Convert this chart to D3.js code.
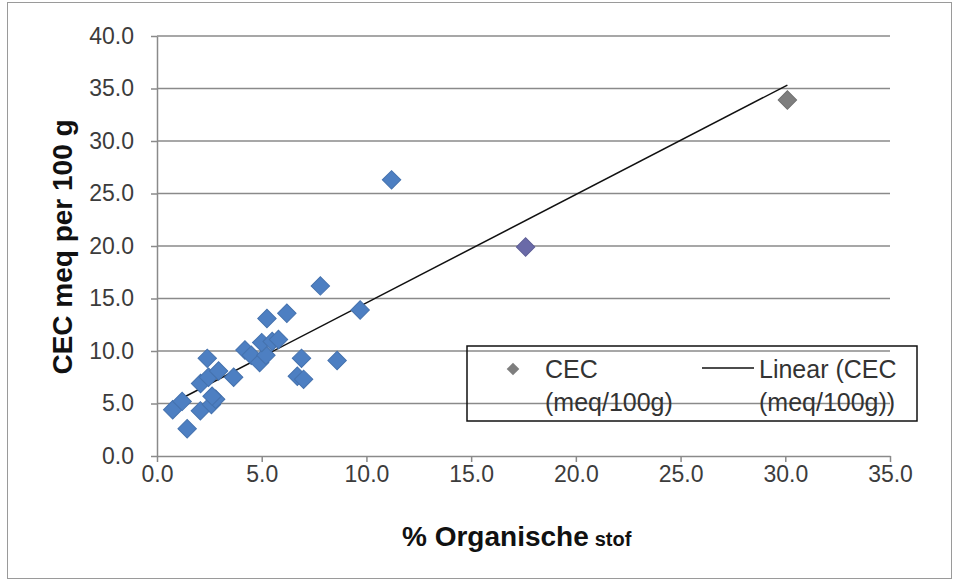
<!DOCTYPE html>
<html>
<head>
<meta charset="utf-8">
<script src="https://cdn.jsdelivr.net/npm/d3@7"></script>
<style>
  body { margin: 0; background: #fff; }
  svg { display: block; font-family: "Liberation Sans", Arial, sans-serif; }
</style>
</head>
<body>
<div id="chart"></div>
<script>
// % organische stof (x) en CEC meq/100g (y)
const organic = [0.75, 1.2, 1.44, 2.07, 2.6, 2.8, 2.63, 2.08, 2.46, 2.94, 2.4, 3.66,
                 4.2, 4.5, 4.9, 5.2, 5.0, 5.5, 5.8, 5.25, 6.2, 6.9, 6.7, 7.0,
                 7.8, 8.6, 9.7, 11.2, 17.6, 30.1];
const cec = [4.4, 5.2, 2.6, 4.3, 4.9, 5.4, 5.7, 6.9, 7.5, 8.1, 9.3, 7.5,
             10.1, 9.6, 8.9, 9.6, 10.8, 10.9, 11.1, 13.1, 13.6, 9.3, 7.6, 7.3,
             16.2, 9.1, 13.9, 26.3, 19.9, 33.9];
const xTicks = [0, 5, 10, 15, 20, 25, 30, 35];
const yTicks = [0, 5, 10, 15, 20, 25, 30, 35, 40];

const points = organic.map((x, i) => ({x: x, y: cec[i]}));

const width = 959, height = 581;
const margin = {top: 36, right: 69, bottom: 125, left: 157};

const svg = d3.select('#chart').append('svg')
    .attr('width', width)
    .attr('height', height);

// buitenrand van de grafiek
svg.append('rect')
    .attr('x', 7.5).attr('y', 2.5)
    .attr('width', 944).attr('height', 576)
    .attr('fill', 'none')
    .attr('stroke', '#9a9a9a')
    .attr('stroke-width', 1);

const x = d3.scaleLinear().domain([0, 35]).range([margin.left, width - margin.right]);
const y = d3.scaleLinear().domain([0, 40]).range([height - margin.bottom, margin.top]);

// horizontale rasterlijnen
svg.append('g')
    .selectAll('line')
    .data(yTicks.filter(d => d > 0))
    .join('line')
    .attr('x1', x(0)).attr('x2', x(35))
    .attr('y1', d => y(d)).attr('y2', d => y(d))
    .attr('stroke', '#8a8a8a')
    .attr('stroke-width', 1.5);

const xAxis = svg.append('g')
    .attr('transform', `translate(0,${y(0)})`)
    .call(d3.axisBottom(x).tickValues(xTicks).tickFormat(d3.format('.1f')).tickSizeInner(6).tickSizeOuter(0).tickPadding(4));

const yAxis = svg.append('g')
    .attr('transform', `translate(${x(0)},0)`)
    .call(d3.axisLeft(y).tickValues(yTicks).tickFormat(d3.format('.1f')).tickSizeInner(6).tickSizeOuter(0).tickPadding(17));

[xAxis, yAxis].forEach(a => {
    a.select('.domain').attr('stroke', '#8a8a8a').attr('stroke-width', 1.5);
    a.selectAll('.tick line').attr('stroke', '#8a8a8a').attr('stroke-width', 1.5);
    a.selectAll('.tick text')
        .attr('fill', '#3c3c3c')
        .style('font-size', '23px')
        .style('font-family', '"Liberation Sans", Arial, sans-serif');
});

// lineaire trendlijn (kleinste kwadraten)
const mx = d3.mean(points, d => d.x), my = d3.mean(points, d => d.y);
const slope = d3.sum(points, d => (d.x - mx) * (d.y - my)) / d3.sum(points, d => (d.x - mx) ** 2);
const intercept = my - slope * mx;
const xExt = d3.extent(points, d => d.x);

svg.append('line')
    .attr('x1', x(xExt[0])).attr('y1', y(intercept + slope * xExt[0]))
    .attr('x2', x(xExt[1])).attr('y2', y(intercept + slope * xExt[1]))
    .attr('stroke', '#111')
    .attr('stroke-width', 1.5);

// punten als ruiten
const colour = d3.scaleThreshold().domain([15, 25]).range(['#4d7fc2', '#6a6aa8', '#7e7e7e']);
const diamond = d3.symbol(d3.symbolSquare, 170);

svg.append('g')
    .selectAll('path')
    .data(points)
    .join('path')
    .attr('d', diamond)
    .attr('transform', d => `translate(${x(d.x)},${y(d.y)}) rotate(45)`)
    .attr('fill', d => colour(d.x))
    .attr('stroke', d => d3.color(colour(d.x)).darker(0.3))
    .attr('stroke-width', 1);

// legenda
const legend = svg.append('g');
legend.append('rect')
    .attr('x', 467).attr('y', 346)
    .attr('width', 450).attr('height', 75)
    .attr('fill', 'none')
    .attr('stroke', '#111')
    .attr('stroke-width', 1.5);
legend.append('path')
    .attr('d', d3.symbol(d3.symbolSquare, 80))
    .attr('transform', 'translate(513,369) rotate(45)')
    .attr('fill', '#7e7e7e');
legend.append('line')
    .attr('x1', 702).attr('x2', 754)
    .attr('y1', 368).attr('y2', 368)
    .attr('stroke', '#111').attr('stroke-width', 1.5);

const legendText = [
    {x: 545, y: 378, t: 'CEC'},
    {x: 545, y: 411, t: '(meq/100g)'},
    {x: 759, y: 378, t: 'Linear (CEC'},
    {x: 759, y: 411, t: '(meq/100g))'}
];
legend.selectAll('text')
    .data(legendText)
    .join('text')
    .attr('x', d => d.x).attr('y', d => d.y)
    .attr('fill', '#333')
    .style('font-size', '25px')
    .text(d => d.t);

// astitels
svg.append('text')
    .attr('transform', `translate(72,${(y(0) + y(40)) / 2 + 1}) rotate(-90)`)
    .attr('text-anchor', 'middle')
    .style('font-size', '28px')
    .style('font-weight', 'bold')
    .attr('fill', '#111')
    .text('CEC meq per 100 g');

const xTitle = svg.append('text')
    .attr('x', 402)
    .attr('y', 546)
    .style('font-weight', 'bold')
    .attr('fill', '#111');
xTitle.append('tspan').style('font-size', '28px').text('% Organische');
xTitle.append('tspan').attr('dx', 6).style('font-size', '20px').text('stof');
</script>
</body>
</html>
